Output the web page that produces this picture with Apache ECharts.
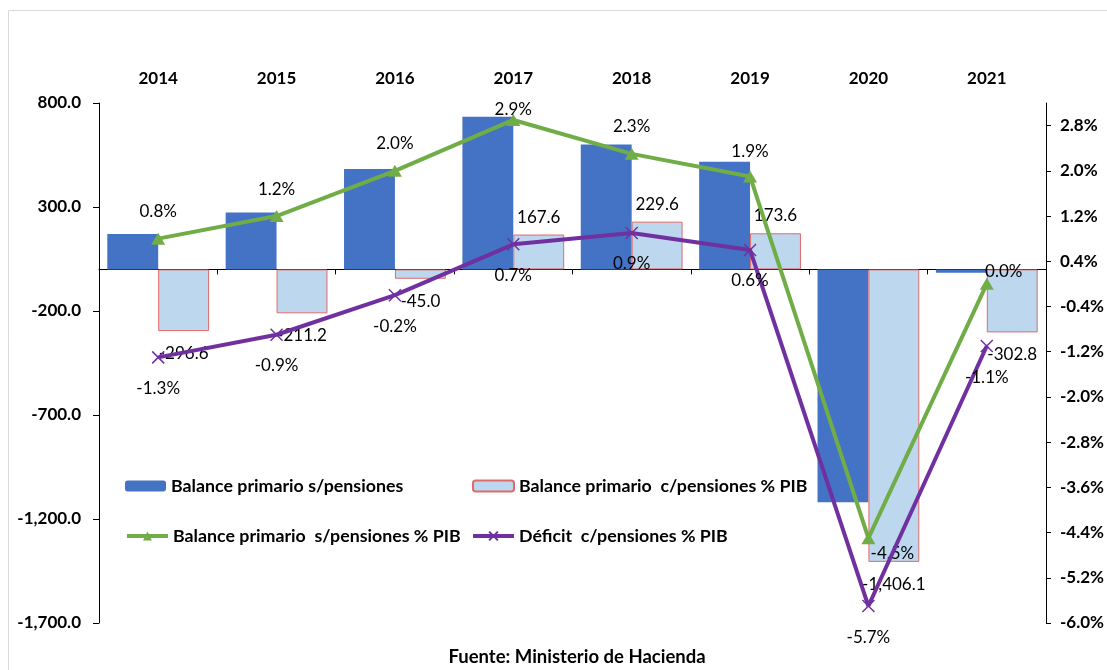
<!DOCTYPE html>
<html lang="es">
<head>
<meta charset="UTF-8">
<title>Balance primario</title>
<style>
  html, body { margin: 0; padding: 0; background: #fff; }
  #main { width: 1107px; height: 670px; }
</style>
</head>
<body>
<div id="main"></div>
<script src="https://cdn.jsdelivr.net/npm/echarts@6/dist/echarts.min.js"></script>
<script>
// datos
const years = ['2014', '2015', '2016', '2017', '2018', '2019', '2020', '2021'];
const balanceSinPens = [170, 273, 483, 734, 601, 518, -1120, -16];
const balanceConPens = [-296.6, -211.2, -45.0, 167.6, 229.6, 173.6, -1406.1, -302.8];
const balancePibSin = [0.8, 1.2, 2.0, 2.9, 2.3, 1.9, -4.5, 0.0];
const deficitPibCon = [-1.3, -0.9, -0.2, 0.7, 0.9, 0.6, -5.7, -1.1];

const names = [
    'Balance primario s/pensiones',
    'Balance primario  c/pensiones % PIB',
    'Balance primario  s/pensiones % PIB',
    'Déficit  c/pensiones % PIB'
];

const FONT = 'Lato';
const axisLbl = { color: '#000', fontFamily: FONT, fontWeight: 'bold', fontSize: 17 };
const dataLbl = { color: '#000', fontFamily: FONT, fontSize: 17 };

function fmtNum(v) {
    return v.toLocaleString('en-US', { minimumFractionDigits: 1, maximumFractionDigits: 1 });
}

// etiquetas de las barras claras: arriba si positivo, abajo si negativo
const barConData = balanceConPens.map(function (v) {
    return {
        value: v,
        label: v >= 0 ? { position: 'top', distance: 9 } : { position: 'bottom', distance: 14 }
    };
});

// etiquetas de la linea verde (algunas movidas a mano como en el original)
const greenOffsets = { 3: [0, -10], 6: [24, 15], 5: [0, -25], 7: [17, -12] };
const greenData = balancePibSin.map(function (v, i) {
    return { value: v, label: { offset: greenOffsets[i] || [0, -27] } };
});

var myChart = echarts.init(document.getElementById('main'));

var option = {
    animation: false,
    backgroundColor: '#fff',
    graphic: [{
        type: 'rect',
        shape: { x: 8.5, y: 10.5, width: 1120, height: 700 },
        style: { fill: 'none', stroke: '#d9d9d9', lineWidth: 1 },
        silent: true
    }],
    title: {
        text: 'Fuente: Ministerio de Hacienda',
        left: 572,
        textAlign: 'center',
        top: 643,
        textStyle: { fontFamily: FONT, fontWeight: 'bold', fontSize: 18.5, color: '#000' }
    },
    legend: [
        { data: [names[0]], left: 125, top: 477 },
        { data: [names[1]], left: 472, top: 477 },
        { data: [names[2]], left: 125, top: 527 },
        { data: [names[3]], left: 471, top: 527 }
    ].map(function (l) {
        return Object.assign({
            padding: 0,
            itemWidth: 41,
            itemHeight: 11,
            selectedMode: false,
            lineStyle: { width: 4 },
            textStyle: { fontFamily: FONT, fontWeight: 'bold', fontSize: 17.8, color: '#000' }
        }, l);
    }),
    grid: { left: 99, right: 60, top: 103, height: 520 },
    xAxis: [
        {
            type: 'category',
            data: years,
            position: 'top',
            axisLine: { show: false, onZero: false },
            axisTick: { show: false },
            axisLabel: Object.assign({ margin: 16 }, axisLbl)
        },
        {
            type: 'category',
            data: years,
            position: 'bottom',
            axisLine: { show: true, onZero: true, lineStyle: { color: '#000', width: 1 } },
            axisTick: { show: true, length: 5, lineStyle: { color: '#000' } },
            axisLabel: { show: false }
        }
    ],
    yAxis: [
        {
            type: 'value',
            min: -1700,
            max: 800,
            interval: 500,
            splitLine: { show: false },
            axisLine: { show: true, lineStyle: { color: '#000' } },
            axisTick: { show: true, length: 6, lineStyle: { color: '#000' } },
            axisLabel: Object.assign({ margin: 18, formatter: fmtNum }, axisLbl)
        },
        {
            type: 'value',
            min: -6.0,
            max: 3.2,
            interval: 0.8,
            position: 'right',
            splitLine: { show: false },
            axisLine: { show: true, lineStyle: { color: '#000' } },
            axisTick: { show: true, length: 5, lineStyle: { color: '#000' } },
            axisLabel: Object.assign({
                margin: 14,
                showMaxLabel: false,
                formatter: function (v) { return v.toFixed(1) + '%'; }
            }, axisLbl)
        }
    ],
    series: [
        {
            name: names[0],
            type: 'bar',
            xAxisIndex: 0,
            yAxisIndex: 0,
            barGap: '0%',
            barCategoryGap: '14%',
            itemStyle: { color: '#4472C4' },
            data: balanceSinPens
        },
        {
            name: names[1],
            type: 'bar',
            xAxisIndex: 0,
            yAxisIndex: 0,
            barGap: '0%',
            barCategoryGap: '14%',
            itemStyle: { color: '#BDD7EE', borderColor: '#E06A6A', borderWidth: 1 },
            label: Object.assign({
                show: true,
                formatter: function (p) { return fmtNum(p.value); }
            }, dataLbl),
            data: barConData
        },
        {
            name: names[2],
            type: 'line',
            xAxisIndex: 0,
            yAxisIndex: 1,
            z: 5,
            symbol: 'triangle',
            symbolSize: [14, 12],
            itemStyle: { color: '#70AD47' },
            lineStyle: { color: '#70AD47', width: 4 },
            label: Object.assign({
                show: true,
                position: 'inside',
                formatter: function (p) { return p.value.toFixed(1) + '%'; }
            }, dataLbl),
            data: greenData
        },
        {
            name: names[3],
            type: 'line',
            xAxisIndex: 0,
            yAxisIndex: 1,
            z: 6,
            symbol: 'path://M0,0L10,10M10,0L0,10',
            symbolSize: 12,
            itemStyle: { color: '#7030A0', borderColor: '#7030A0', borderWidth: 1.5 },
            lineStyle: { color: '#7030A0', width: 4 },
            label: Object.assign({
                show: true,
                position: 'inside',
                offset: [0, 31],
                formatter: function (p) { return p.value.toFixed(1) + '%'; }
            }, dataLbl),
            data: deficitPibCon
        }
    ]
};

myChart.setOption(option);
</script>
</body>
</html>
